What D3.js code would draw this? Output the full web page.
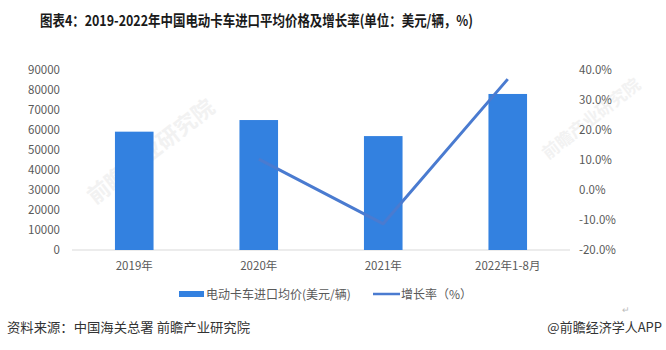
<!DOCTYPE html>
<html>
<head>
<meta charset="utf-8">
<script src="https://cdn.jsdelivr.net/npm/d3@7"></script>
<style>
  body { margin: 0; background: #fff; }
  text { font-family: "Noto Sans CJK SC", "Noto Sans", sans-serif; }
</style>
</head>
<body>
<div id="chart"></div>
<script>
// data
var categories = ["2019年", "2020年", "2021年", "2022年1-8月"];
var avgPrice = [59000, 64800, 56800, 77800];
var growth = [null, 10.2, -11.3, 36.8];
var leftTicks = [0, 10000, 20000, 30000, 40000, 50000, 60000, 70000, 80000, 90000];
var rightTicks = [-20, -10, 0, 10, 20, 30, 40];

var W = 666, H = 350;
var barColor = "#3381e0";
var lineColor = "#4a7bd0";
var tickColor = "#595959";

var svg = d3.select("#chart").append("svg")
  .attr("width", W).attr("height", H);

svg.append("rect").attr("width", W).attr("height", H).attr("fill", "#fff");

// faint watermarks
function watermark(x, y, size) {
  svg.append("text")
    .attr("transform", "translate(" + x + "," + y + ") rotate(-38)")
    .attr("font-size", size)
    .attr("font-weight", "bold")
    .attr("fill", "#f2f2f2")
    .text("前瞻产业研究院");
}
watermark(95, 205, 22);
watermark(548, 160, 17);

// title
svg.append("text")
  .attr("x", 40).attr("y", 26)
  .attr("font-size", 15)
  .attr("font-weight", "bold")
  .attr("fill", "#1a1a1a")
  .attr("textLength", 433)
  .attr("lengthAdjust", "spacingAndGlyphs")
  .text("图表4：2019-2022年中国电动卡车进口平均价格及增长率(单位：美元/辆，%)");

var x = d3.scaleBand().domain(categories).range([72, 570]).paddingInner(0.69).paddingOuter(0.345);
var yL = d3.scaleLinear().domain([0, 90000]).range([250, 69.5]);
var yR = d3.scaleLinear().domain([-20, 40]).range([250, 69.5]);

// baseline
svg.append("line")
  .attr("x1", 72).attr("x2", 570)
  .attr("y1", yL(0)).attr("y2", yL(0))
  .attr("stroke", "#d9d9d9").attr("stroke-width", 1);

// left axis
var gL = svg.append("g").attr("transform", "translate(60,0)")
  .call(d3.axisLeft(yL).tickValues(leftTicks).tickSize(0).tickPadding(0).tickFormat(d3.format("d")));
gL.select(".domain").remove();
gL.selectAll("text").attr("font-size", 11.5).attr("fill", tickColor)
  .style("font-family", "'Noto Sans CJK SC', sans-serif");

// right axis
var gR = svg.append("g").attr("transform", "translate(579,0)")
  .call(d3.axisRight(yR).tickValues(rightTicks).tickSize(0).tickPadding(0)
    .tickFormat(function(d) { return d.toFixed(1) + "%"; }));
gR.select(".domain").remove();
gR.selectAll("text").attr("font-size", 11.5).attr("fill", tickColor)
  .style("font-family", "'Noto Sans CJK SC', sans-serif");

// bars
svg.selectAll(".bar").data(avgPrice).enter().append("rect")
  .attr("class", "bar")
  .attr("x", function(d, i) { return x(categories[i]); })
  .attr("width", x.bandwidth())
  .attr("y", function(d) { return yL(d); })
  .attr("height", function(d) { return yL(0) - yL(d); })
  .attr("fill", barColor);

// growth line
var pts = growth.map(function(g, i) { return { c: categories[i], g: g }; })
  .filter(function(p) { return p.g !== null; });
svg.append("path")
  .datum(pts)
  .attr("fill", "none")
  .attr("stroke", lineColor)
  .attr("stroke-width", 3)
  .attr("stroke-linejoin", "round")
  .attr("d", d3.line()
    .x(function(p) { return x(p.c) + x.bandwidth() / 2; })
    .y(function(p) { return yR(p.g); }));

// x labels
svg.selectAll(".xl").data(categories).enter().append("text")
  .attr("x", function(d) { return x(d) + x.bandwidth() / 2; })
  .attr("y", 270)
  .attr("text-anchor", "middle")
  .attr("font-size", 11.5)
  .attr("fill", tickColor)
  .text(function(d) { return d; });

// legend
svg.append("rect").attr("x", 179).attr("y", 291).attr("width", 25).attr("height", 6).attr("fill", barColor);
svg.append("text").attr("x", 206).attr("y", 298.5).attr("font-size", 12).attr("fill", tickColor)
  .text("电动卡车进口均价(美元/辆)");
svg.append("line").attr("x1", 373).attr("x2", 400).attr("y1", 294).attr("y2", 294)
  .attr("stroke", lineColor).attr("stroke-width", 2.5);
svg.append("text").attr("x", 401).attr("y", 298.5).attr("font-size", 12).attr("fill", tickColor)
  .text("增长率（%）");

// small return mark
svg.append("text").attr("x", 622).attr("y", 313).attr("font-size", 9).attr("fill", "#bbb").text("↵");

// footer
svg.append("text").attr("x", 7).attr("y", 332).attr("font-size", 13).attr("fill", "#333")
  .attr("textLength", 243).attr("lengthAdjust", "spacingAndGlyphs")
  .text("资料来源：中国海关总署 前瞻产业研究院");
svg.append("text").attr("x", 662).attr("y", 332).attr("font-size", 13).attr("fill", "#333")
  .attr("text-anchor", "end")
  .text("@前瞻经济学人APP");
</script>
</body>
</html>
